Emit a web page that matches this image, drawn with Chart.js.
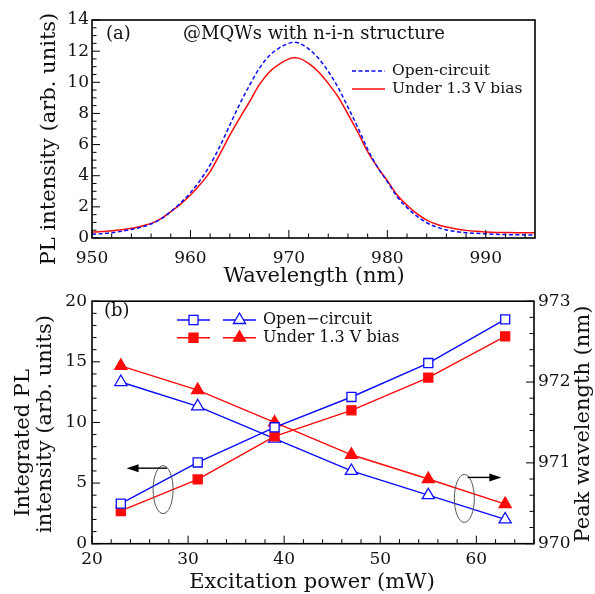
<!DOCTYPE html>
<html>
<head>
<meta charset="utf-8">
<script src="https://cdn.jsdelivr.net/npm/chart.js@4.4.1/dist/chart.umd.min.js"></script>
<style>
  html, body { margin: 0; padding: 0; background: #fff; }
  #wrap { position: relative; width: 595px; height: 594px; }
  canvas { position: absolute; left: 0; }
  #topChart { top: 0; }
  #bottomChart { top: 286px; }
</style>
</head>
<body>
<div id="wrap">
  <canvas id="topChart" width="595" height="286" style="width:595px;height:286px"></canvas>
  <canvas id="bottomChart" width="595" height="308" style="width:595px;height:308px"></canvas>
</div>
<script>
// (a) PL spectra
const wavelength = [950, 951, 952, 953, 954, 955, 956, 957, 958, 959, 960, 961, 962, 963, 964, 965, 966, 967, 968, 969, 970, 970.5,
  971, 972, 973, 974, 975, 976, 977, 978, 979, 980, 981, 982, 983, 984, 985, 986, 987, 988, 989, 990, 991, 992, 993, 994, 995];
const plOpen = [0.24, 0.28, 0.34, 0.43, 0.55, 0.70, 0.90, 1.22, 1.69, 2.25, 2.91, 3.72, 4.69, 5.90, 7.25, 8.60, 9.80, 10.90, 11.70, 12.20, 12.50, 12.57,
  12.52, 12.15, 11.54, 10.70, 9.66, 8.40, 7.10, 5.70, 4.55, 3.62, 2.65, 1.95, 1.40, 0.98, 0.70, 0.52, 0.41, 0.34, 0.30, 0.27, 0.24, 0.22, 0.21, 0.20, 0.19];
const plBias = [0.38, 0.41, 0.47, 0.53, 0.62, 0.76, 0.94, 1.25, 1.69, 2.18, 2.76, 3.45, 4.26, 5.40, 6.60, 7.70, 8.75, 9.85, 10.65, 11.15, 11.50, 11.58,
  11.55, 11.22, 10.68, 9.93, 9.06, 7.95, 6.80, 5.55, 4.55, 3.68, 2.76, 2.10, 1.56, 1.15, 0.88, 0.70, 0.58, 0.49, 0.43, 0.39, 0.36, 0.35, 0.34, 0.34, 0.34];

// (b) integrated intensity and peak wavelength vs power
const power = [23, 31, 39, 47, 55, 63];
const intOpen = [3.3, 6.7, 9.6, 12.1, 14.9, 18.5];
const intBias = [2.7, 5.3, 8.85, 11.0, 13.7, 17.1];
const peakOpen = [972.0, 971.7, 971.3, 970.9, 970.6, 970.3];
const peakBias = [972.2, 971.9, 971.5, 971.1, 970.8, 970.49];

const BLUE = "#0a0aff";
const RED = "#ff0a0a";
const SERIF = '"DejaVu Serif", serif';
const INK = "#111";

function xy(xs, ys) {
  return xs.map((x, i) => ({ x: x, y: ys[i] }));
}

function font(size) {
  return size + "px " + SERIF;
}

function text(ctx, str, x, y, size, align, rotate) {
  ctx.save();
  ctx.fillStyle = INK;
  ctx.font = font(size);
  ctx.textAlign = align || "center";
  ctx.textBaseline = "middle";
  ctx.translate(x, y);
  if (rotate) ctx.rotate(-Math.PI / 2);
  ctx.fillText(str, 0, 0);
  ctx.restore();
}

// inward tick marks + frame, then panel extras
function framePlugin(spec, extras) {
  return {
    id: "frame",
    afterDraw(chart) {
      const ctx = chart.ctx;
      const a = chart.chartArea;
      ctx.save();
      ctx.strokeStyle = "#000";
      ctx.lineWidth = 1;
      Object.keys(spec).forEach((id) => {
        const s = chart.scales[id];
        const major = spec[id][0];
        const minor = spec[id][1];
        const n = Math.floor((s.max - s.min) / minor + 1e-6);
        for (let i = 0; i <= n; i++) {
          const v = s.min + i * minor;
          const isMajor = Math.abs(v / major - Math.round(v / major)) < 1e-6;
          const len = isMajor ? 8 : 4.5;
          const p = s.getPixelForValue(v);
          ctx.beginPath();
          if (s.isHorizontal()) {
            ctx.moveTo(p, a.bottom);
            ctx.lineTo(p, a.bottom - len);
          } else if (s.position === "left") {
            ctx.moveTo(a.left, p);
            ctx.lineTo(a.left + len, p);
          } else {
            ctx.moveTo(a.right, p);
            ctx.lineTo(a.right - len, p);
          }
          ctx.stroke();
        }
      });
      ctx.lineWidth = 1.6;
      ctx.strokeRect(a.left, a.top, a.right - a.left, a.bottom - a.top);
      ctx.restore();
      extras(chart, ctx);
    }
  };
}

function fixed(size, horizontal) {
  return function (scale) {
    if (horizontal) scale.height = size;
    else scale.width = size;
  };
}

function axisTicks(size, padding) {
  return { color: INK, font: { family: SERIF, size: size }, padding: padding, includeBounds: false };
}

const noGrid = { display: false, drawTicks: false };

// ---------- panel (a) ----------
new Chart(document.getElementById("topChart"), {
  type: "line",
  data: {
    datasets: [
      {
        label: "Open-circuit",
        data: xy(wavelength, plOpen),
        borderColor: BLUE,
        borderWidth: 1.5,
        borderDash: [4, 2.5],
        pointRadius: 0,
        cubicInterpolationMode: "monotone",
        fill: false
      },
      {
        label: "Under 1.3\u2009V bias",
        data: xy(wavelength, plBias),
        borderColor: RED,
        borderWidth: 1.5,
        pointRadius: 0,
        cubicInterpolationMode: "monotone",
        fill: false
      }
    ]
  },
  options: {
    responsive: false,
    animation: false,
    events: [],
    layout: { padding: { left: 0, right: 60, top: 20, bottom: 0 } },
    plugins: { legend: { display: false }, tooltip: { enabled: false } },
    scales: {
      x: {
        type: "linear",
        min: 950,
        max: 995,
        grid: noGrid,
        border: { display: false },
        ticks: Object.assign(axisTicks(17, 10.5), { stepSize: 10 }),
        afterFit: fixed(48, true)
      },
      y: {
        min: 0,
        max: 14,
        grid: noGrid,
        border: { display: false },
        ticks: Object.assign(axisTicks(17, 3), { stepSize: 2 }),
        afterFit: fixed(92, false)
      }
    }
  },
  plugins: [framePlugin({ x: [10, 2], y: [2, 0.5] }, (chart, ctx) => {
    text(ctx, "PL intensity (arb. units)", 50, 139, 21, "center", true);
    text(ctx, "Wavelength (nm)", 314, 277, 21, "center");
    text(ctx, "(a)", 106, 34, 18, "left");
    text(ctx, "@MQWs with n-i-n structure", 183, 34, 18, "left");
    // legend
    const rows = [71, 89];
    chart.data.datasets.forEach((ds, i) => {
      ctx.save();
      ctx.strokeStyle = ds.borderColor;
      ctx.lineWidth = ds.borderWidth;
      ctx.setLineDash(ds.borderDash || []);
      ctx.beginPath();
      ctx.moveTo(352, rows[i]);
      ctx.lineTo(385, rows[i]);
      ctx.stroke();
      ctx.restore();
      text(ctx, ds.label, 392, rows[i], 15.5, "left");
    });
  })]
});

// ---------- panel (b) ----------
function marker(ctx, style, x, y, r, stroke, fillColor) {
  ctx.save();
  ctx.beginPath();
  if (style === "rect") {
    const s = r * Math.SQRT1_2;
    ctx.rect(x - s, y - s, 2 * s, 2 * s);
  } else {
    ctx.moveTo(x, y - r);
    ctx.lineTo(x + r * 0.866, y + r / 2);
    ctx.lineTo(x - r * 0.866, y + r / 2);
    ctx.closePath();
  }
  ctx.fillStyle = fillColor;
  ctx.fill();
  ctx.strokeStyle = stroke;
  ctx.lineWidth = 1.3;
  ctx.stroke();
  ctx.restore();
}

function arrow(ctx, x0, y0, x1, y1) {
  const dir = Math.sign(x1 - x0);
  ctx.save();
  ctx.strokeStyle = "#000";
  ctx.fillStyle = "#000";
  ctx.lineWidth = 1.4;
  ctx.beginPath();
  ctx.moveTo(x0, y0);
  ctx.lineTo(x1 - dir * 10, y1);
  ctx.stroke();
  ctx.beginPath();
  ctx.moveTo(x1, y1);
  ctx.lineTo(x1 - dir * 12, y1 - 4);
  ctx.lineTo(x1 - dir * 12, y1 + 4);
  ctx.closePath();
  ctx.fill();
  ctx.restore();
}

function ellipse(ctx, x, y) {
  ctx.save();
  ctx.strokeStyle = "#555";
  ctx.lineWidth = 1;
  ctx.beginPath();
  ctx.ellipse(x, y, 10, 24, 0, 0, Math.PI * 2);
  ctx.stroke();
  ctx.restore();
}

const seriesStyle = [
  { label: "sq-open", data: intOpen, axis: "y", style: "rect", color: BLUE, fillColor: "#fff", r: 6.4 },
  { label: "sq-bias", data: intBias, axis: "y", style: "rect", color: RED, fillColor: RED, r: 6.4 },
  { label: "tri-open", data: peakOpen, axis: "y1", style: "triangle", color: BLUE, fillColor: "#fff", r: 7 },
  { label: "tri-bias", data: peakBias, axis: "y1", style: "triangle", color: RED, fillColor: RED, r: 7 }
];

new Chart(document.getElementById("bottomChart"), {
  type: "line",
  data: {
    datasets: seriesStyle.map((s) => ({
      label: s.label,
      data: xy(power, s.data),
      yAxisID: s.axis,
      borderColor: s.color,
      borderWidth: 1.4,
      pointStyle: s.style,
      pointRadius: s.r,
      pointBorderWidth: 1.3,
      pointBorderColor: s.color,
      pointBackgroundColor: s.fillColor,
      tension: 0,
      fill: false
    }))
  },
  options: {
    responsive: false,
    animation: false,
    events: [],
    layout: { padding: { left: 0, right: 0, top: 12.3, bottom: 0 } },
    plugins: { legend: { display: false }, tooltip: { enabled: false } },
    scales: {
      x: {
        type: "linear",
        min: 20,
        max: 66,
        grid: noGrid,
        border: { display: false },
        ticks: Object.assign(axisTicks(17, 6), { stepSize: 10 }),
        afterFit: fixed(50.3, true)
      },
      y: {
        position: "left",
        min: 0,
        max: 20,
        grid: noGrid,
        border: { display: false },
        ticks: Object.assign(axisTicks(17, 5), { stepSize: 5 }),
        afterFit: fixed(92, false)
      },
      y1: {
        position: "right",
        min: 970,
        max: 973,
        grid: noGrid,
        border: { display: false },
        ticks: Object.assign(axisTicks(17, 4), { stepSize: 1 }),
        afterFit: fixed(61, false)
      }
    }
  },
  plugins: [framePlugin({ x: [10, 2], y: [5, 1], y1: [1, 0.2] }, (chart, ctx) => {
    const sx = chart.scales.x, sy = chart.scales.y, sr = chart.scales.y1;
    text(ctx, "Integrated PL", 24, 157, 21, "center", true);
    text(ctx, "intensity (arb. units)", 46, 138, 21, "center", true);
    text(ctx, "Peak wavelength (nm)", 584, 138, 21, "center", true);
    text(ctx, "Excitation power (mW)", 312, 297, 21, "center");
    text(ctx, "(b)", 104, 25, 18, "left");

    // legend
    const rows = [34, 51.7];
    const names = ["Open\u2212circuit", "Under 1.3 V bias"];
    [0, 1].forEach((row) => {
      const y = rows[row];
      [seriesStyle[row], seriesStyle[row + 2]].forEach((s, k) => {
        const x0 = k === 0 ? 177 : 223;
        ctx.save();
        ctx.strokeStyle = s.color;
        ctx.lineWidth = 1.4;
        ctx.beginPath();
        ctx.moveTo(x0, y);
        ctx.lineTo(x0 + 33, y);
        ctx.stroke();
        ctx.restore();
        marker(ctx, s.style, x0 + 16.5, y, s.r, s.color, s.fillColor);
      });
      text(ctx, names[row], 263, y, 16, "left");
    });

    // axis pointers: ellipses and arrows placed in data units
    ellipse(ctx, sx.getPixelForValue(27.4), sy.getPixelForValue(4.46));
    arrow(ctx, sx.getPixelForValue(27.8), sy.getPixelForValue(6.23), sx.getPixelForValue(23.6), sy.getPixelForValue(6.23));
    ellipse(ctx, sx.getPixelForValue(58.75), sr.getPixelForValue(970.56));
    arrow(ctx, sx.getPixelForValue(59.1), sr.getPixelForValue(970.82), sx.getPixelForValue(62.6), sr.getPixelForValue(970.82));
  })]
});
</script>
</body>
</html>
